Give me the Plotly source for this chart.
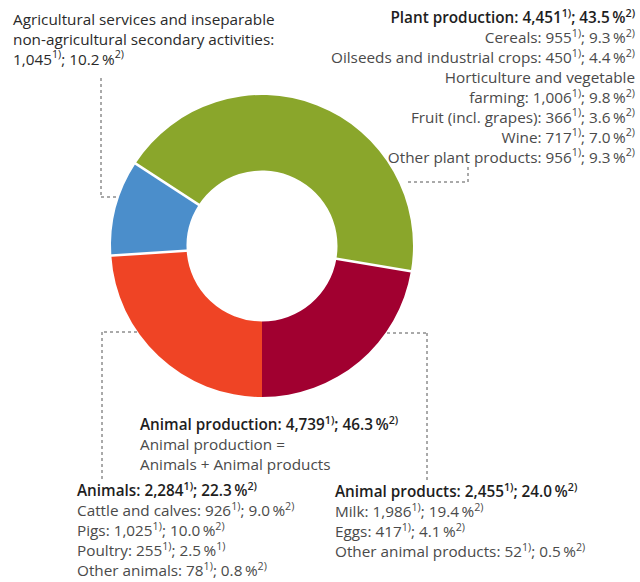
import math
import plotly.graph_objects as go

# ---- data ----
segment_names = ["Animal products", "Agricultural services", "Plant production", "Animals"]
segment_values = [2455, 1045, 4451, 2284]
segment_colors = ["#EF4425", "#4B8ECB", "#8AA62B", "#A10030"]
separator_after = [True, True, True, False]  # white gap after each slice (clockwise)

top_left_lines = [
    "Agricultural services and inseparable",
    "non-agricultural secondary activities:",
    "1,045<sup>1)</sup>; 10.2\u2009%<sup>2)</sup>",
]
plant_head = "Plant production: 4,451<sup>1)</sup>; 43.5\u2009%<sup>2)</sup>"
plant_lines = [
    "Cereals: 955<sup>1)</sup>; 9.3\u2009%<sup>2)</sup>",
    "Oilseeds and industrial crops: 450<sup>1)</sup>; 4.4\u2009%<sup>2)</sup>",
    "Horticulture and vegetable",
    "farming: 1,006<sup>1)</sup>; 9.8\u2009%<sup>2)</sup>",
    "Fruit (incl. grapes): 366<sup>1)</sup>; 3.6\u2009%<sup>2)</sup>",
    "Wine: 717<sup>1)</sup>; 7.0\u2009%<sup>2)</sup>",
    "Other plant products: 956<sup>1)</sup>; 9.3\u2009%<sup>2)</sup>",
]
animal_prod_head = "Animal production: 4,739<sup>1)</sup>; 46.3\u2009%<sup>2)</sup>"
animal_prod_lines = ["Animal production =", "Animals + Animal products"]
animals_head = "Animals: 2,284<sup>1)</sup>; 22.3\u2009%<sup>2)</sup>"
animals_lines = [
    "Cattle and calves: 926<sup>1)</sup>; 9.0\u2009%<sup>2)</sup>",
    "Pigs: 1,025<sup>1)</sup>; 10.0\u2009%<sup>2)</sup>",
    "Poultry: 255<sup>1)</sup>; 2.5\u2009%<sup>1)</sup>",
    "Other animals: 78<sup>1)</sup>; 0.8\u2009%<sup>2)</sup>",
]
animal_products_head = "Animal products: 2,455<sup>1)</sup>; 24.0\u2009%<sup>2)</sup>"
animal_products_lines = [
    "Milk: 1,986<sup>1)</sup>; 19.4\u2009%<sup>2)</sup>",
    "Eggs: 417<sup>1)</sup>; 4.1\u2009%<sup>2)</sup>",
    "Other animal products: 52<sup>1)</sup>; 0.5\u2009%<sup>2)</sup>",
]

# ---- layout constants ----
W, H = 640, 582
CX, CY, R = 262, 246, 151
HOLE = 0.5
FONT = "Open Sans"
FS = 15.3
DARK = "#1e1e1e"
GREY = "#4a4a4a"
LINE_COL = "#555555"


def px(x):
    return x / W


def py(y):
    return 1 - y / H


fig = go.Figure()
fig.add_trace(go.Pie(
    labels=segment_names,
    values=segment_values,
    marker=dict(colors=segment_colors, line=dict(width=0)),
    hole=HOLE,
    sort=False,
    direction="clockwise",
    rotation=180,
    textinfo="none",
    hoverinfo="skip",
    showlegend=False,
    domain=dict(x=[px(CX - R), px(CX + R)], y=[py(CY + R), py(CY - R)]),
))

shapes = []
total = sum(segment_values)
cum = 0
for v, sep in zip(segment_values, separator_after):
    cum += v
    if not sep:
        continue
    theta = math.radians(180 + 360 * cum / total)
    r0, r1 = R * HOLE - 3, R + 3
    x0 = CX + r0 * math.sin(theta)
    y0 = CY - r0 * math.cos(theta)
    x1 = CX + r1 * math.sin(theta)
    y1 = CY - r1 * math.cos(theta)
    shapes.append(dict(type="line", xref="paper", yref="paper",
                       x0=px(x0), y0=py(y0), x1=px(x1), y1=py(y1),
                       line=dict(color="white", width=2.5)))


def leader(points):
    for (xa, ya), (xb, yb) in zip(points[:-1], points[1:]):
        shapes.append(dict(type="line", xref="paper", yref="paper",
                           x0=px(xa), y0=py(ya), x1=px(xb), y1=py(yb),
                           line=dict(color=LINE_COL, width=1, dash="dot")))


leader([(101, 78), (101, 197), (116, 197)])
leader([(408, 182), (468, 182), (468, 165)])
leader([(137, 332), (102, 332), (102, 482)])
leader([(387, 333), (427, 333), (427, 482)])

annotations = []


def head(t):
    return f'<span style="font-weight:600;color:{DARK}">{t}</span>'


def add_block(lines, x, y, anchor="left"):
    annotations.append(dict(text="<br>".join(lines), x=px(x), y=py(y),
                            xref="paper", yref="paper",
                            xanchor=anchor, yanchor="middle", align=anchor,
                            showarrow=False,
                            font=dict(family=FONT, size=FS, color=GREY)))


add_block([f'<span style="color:#2a2a2a">{t}</span>' for t in top_left_lines], 11, 39)
add_block([head(plant_head)] + plant_lines, 637, 86, anchor="right")
add_block([head(animal_prod_head)] + animal_prod_lines, 138, 443)
add_block([head(animals_head)] + animals_lines, 75, 529)
add_block([head(animal_products_head)] + animal_products_lines, 333, 520)

fig.update_layout(
    width=W, height=H,
    margin=dict(l=0, r=0, t=0, b=0),
    paper_bgcolor="white", plot_bgcolor="white",
    shapes=shapes, annotations=annotations,
)
fig.write_html("out.html")
